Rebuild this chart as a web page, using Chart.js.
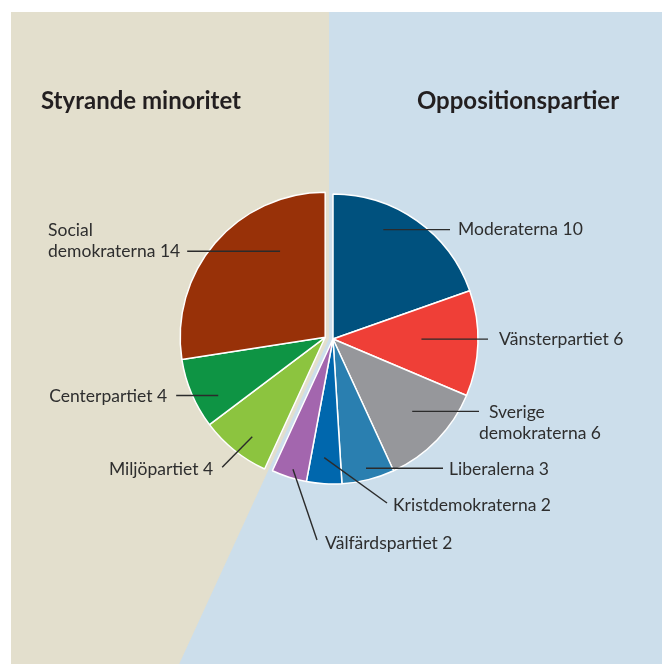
<!DOCTYPE html>
<html>
<head>
<meta charset="utf-8">
<script src="https://cdn.jsdelivr.net/npm/chart.js@4.4.1/dist/chart.umd.min.js"></script>
<style>
html, body { margin: 0; padding: 0; background: #fff; }
canvas { display: block; }
</style>
</head>
<body>
<canvas id="valet" width="662" height="664"></canvas>
<script>
let partier = ['Moderaterna', 'Vänsterpartiet', 'Sverige\ndemokraterna', 'Liberalerna', 'Kristdemokraterna', 'Välfärdspartiet', 'Miljöpartiet', 'Centerpartiet', 'Social\ndemokraterna'];
let mandat = [10, 6, 6, 3, 2, 2, 4, 4, 14];
let styrande = [false, false, false, false, false, false, true, true, true];
let farger = ['#00517e', '#ef3f37', '#96979b', '#2a7fb0', '#0067ad', '#a366ae', '#8cc43f', '#0e9444', '#983108'];
let rubriker = ['Styrande minoritet', 'Oppositionspartier'];

// pekarlinjer: af/rf = var i tårtbiten linjen börjar, ex/ey = slutpunkt relativt tårtans mitt (ey null = vågrät)
let linjer = [
    {af: 0.35, rf: 0.83, ex: 117, ey: null, gap: 8, ty: 0},
    {af: 0.46, rf: 0.61, ex: 155, ey: null, gap: 11, ty: 0},
    {af: 0.46, rf: 0.74, ex: 146, ey: null, gap: 0, ty: 1, rad: 0, indent: [10, 0]},
    {af: 0.49, rf: 0.92, ex: 110, ey: null, gap: 6, ty: 1},
    {af: 0.55, rf: 0.82, ex: 54, ey: 164, gap: 6, ty: 2},
    {af: 0.46, rf: 0.94, ex: -16, ey: 201, gap: 8, ty: 3},
    {af: 0.41, rf: 0.85, ex: -103, ey: 130, gap: -9, ty: 2},
    {af: 0.30, rf: 0.84, ex: -149, ey: null, gap: -9, ty: 1},
    {af: 0.72, rf: 0.67, ex: -138, ey: null, gap: -7, ty: 0, rad: 1}
];

const W = 662, H = 664;
const beige = '#e3dfcd';
const bla = '#ccdeeb';
const textFarg = '#2e2e2e';
const etikettFont = '17.5px Lato';
const radHojd = 21;

// flytta ut de styrande partiernas bitar som en grupp
const sprang = {
    id: 'sprang',
    afterDatasetsUpdate(chart) {
        const arcs = chart.getDatasetMeta(0).data;
        let s = Infinity, e = -Infinity;
        arcs.forEach((a, i) => {
            if (styrande[i]) { s = Math.min(s, a.startAngle); e = Math.max(e, a.endAngle); }
        });
        const mid = (s + e) / 2;
        const dx = Math.cos(mid) * 8, dy = Math.sin(mid) * 8;
        arcs.forEach((a, i) => {
            if (styrande[i]) { a.x += dx; a.y += dy; }
        });
    }
};

const bakgrund = {
    id: 'bakgrund',
    beforeDraw(chart) {
        const ctx = chart.ctx;
        const arcs = chart.getDatasetMeta(0).data;
        const opp = arcs[styrande.indexOf(false)];
        const sty = arcs[styrande.indexOf(true)];
        const ox = (opp.x + sty.x) / 2, oy = (opp.y + sty.y) / 2;
        const a = sty.startAngle;
        const t = (H - oy) / Math.sin(a);
        const xb = ox + Math.cos(a) * t;
        ctx.save();
        ctx.fillStyle = '#fff';
        ctx.fillRect(0, 0, W, H);
        ctx.fillStyle = beige;
        ctx.fillRect(11, 12, W - 11, H - 12);
        ctx.fillStyle = bla;
        ctx.beginPath();
        ctx.moveTo(ox, 12);
        ctx.lineTo(W, 12);
        ctx.lineTo(W, H);
        ctx.lineTo(xb, H);
        ctx.lineTo(ox, oy);
        ctx.closePath();
        ctx.fill();

        ctx.fillStyle = '#231f20';
        ctx.font = 'bold 24px Lato';
        ctx.textBaseline = 'middle';
        ctx.textAlign = 'center';
        ctx.fillText(rubriker[0], 141, 101);
        ctx.fillText(rubriker[1], 518, 101);
        ctx.restore();
    }
};

const etiketter = {
    id: 'etiketter',
    afterDatasetsDraw(chart) {
        const ctx = chart.ctx;
        const arcs = chart.getDatasetMeta(0).data;
        ctx.save();
        ctx.font = etikettFont;
        ctx.textBaseline = 'middle';
        ctx.textAlign = 'left';
        arcs.forEach((arc, i) => {
            const L = linjer[i];
            const vinkel = arc.startAngle + L.af * (arc.endAngle - arc.startAngle);
            const px = arc.x + Math.cos(vinkel) * arc.outerRadius * L.rf;
            const py = arc.y + Math.sin(vinkel) * arc.outerRadius * L.rf;
            const qx = arc.x + L.ex;
            const qy = L.ey === null ? py : arc.y + L.ey;
            ctx.strokeStyle = '#2b2b2b';
            ctx.lineWidth = 1.4;
            ctx.beginPath();
            ctx.moveTo(px, py);
            ctx.lineTo(qx, qy);
            ctx.stroke();

            const rader = (partier[i] + ' ' + mandat[i]).split('\n');
            const bredd = Math.max(...rader.map(r => ctx.measureText(r).width));
            const x0 = L.gap >= 0 ? qx + L.gap : qx + L.gap - bredd;
            const y0 = qy + L.ty - (L.rad || 0) * radHojd;
            ctx.fillStyle = textFarg;
            rader.forEach((r, k) => {
                const ind = L.indent ? L.indent[k] : 0;
                ctx.fillText(r, x0 + ind, y0 + k * radHojd);
            });
        });
        ctx.restore();
    }
};

let chart = new Chart(document.getElementById('valet'), {
    type: 'pie',
    data: {
        labels: partier,
        datasets: [{
            data: mandat,
            backgroundColor: farger,
            borderColor: '#fff',
            borderWidth: 1.5
        }]
    },
    options: {
        responsive: false,
        animation: false,
        events: [],
        radius: 145,
        layout: {
            padding: {left: 188, right: 184, top: 194, bottom: 180}
        },
        plugins: {
            legend: {display: false},
            tooltip: {enabled: false}
        }
    },
    plugins: [sprang, bakgrund, etiketter]
});
</script>
</body>
</html>
